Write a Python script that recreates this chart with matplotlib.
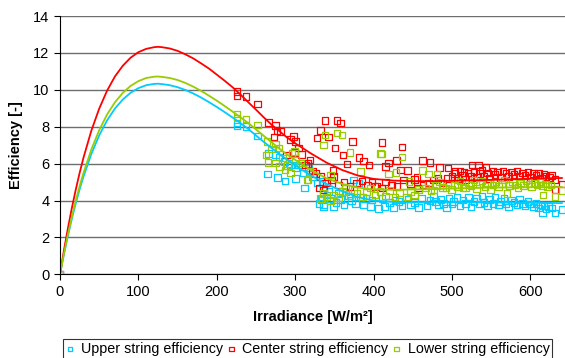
import matplotlib
matplotlib.use("Agg")
import matplotlib.pyplot as plt

plt.rcParams['font.family'] = ['Liberation Sans', 'DejaVu Sans']

# scatter data (irradiance W/m2, efficiency)
upper_x = [0, 225.5, 225.5, 237.5, 252, 266, 274.5, 279, 264.6, 277.4, 287, 300, 294, 300, 304,
           312, 317, 334, 336, 374, 381, 286, 292, 310, 322, 328,
           330, 336, 349, 362, 377, 387, 396, 340.5, 355, 368, 383, 398, 336, 333, 345, 352, 358,
           372, 390, 406, 414, 425, 436, 447, 457, 410.6, 427, 444, 461, 420, 432, 452, 343, 365,
           468, 472, 476, 479, 483, 486, 489, 493, 496, 500, 502, 506, 510, 514, 517, 521, 524,
           528, 531, 535, 538, 541, 545, 548, 552, 555, 559, 562, 566, 569, 572, 576, 579, 583,
           586, 590, 593, 597, 600, 604, 607, 610, 613, 617, 620, 623, 627, 615, 631, 640]
upper_y = [0, 8.19, 8.05, 8.0, 7.5, 6.56, 6.47, 6.35, 5.44, 5.26, 5.06, 5.2, 5.93, 5.8, 5.93,
           4.67, 5.75, 5.02, 4.67, 5.12, 4.94, 6.1, 6.0, 5.5, 5.3, 4.95,
           3.85, 3.76, 3.67, 3.76, 3.85, 3.76, 3.67, 4.3, 4.39, 4.25, 4.18, 4.03, 3.67, 4.05, 4.1,
           3.9, 4.05, 4.0, 4.1, 3.58, 3.67, 3.62, 3.7, 3.76, 3.62, 4.12, 4.03, 4.07, 4.12, 3.9,
           3.95, 3.9, 4.5, 4.45,
           3.7, 4.0, 4.21, 3.94, 3.75, 4.05, 3.85, 3.6, 4.1, 3.8, 3.94, 4.15, 3.7, 4.03, 3.85, 4.2,
           3.65, 3.95, 4.1, 3.8, 4.25, 3.9, 3.7, 4.05, 3.85, 4.15, 3.75, 3.95, 4.1, 3.8, 3.65, 4.0,
           3.9, 3.75, 4.05, 3.85, 3.7, 3.95, 3.8, 3.65, 3.85, 3.6, 3.75, 3.7, 3.55, 3.68, 3.6,
           3.34, 3.32, 3.5]

center_x = [0, 225.5, 225.5, 237.5, 252, 266, 274.5, 276.6, 281, 273, 298, 300, 304, 294, 289,
            299, 313, 319, 332, 330, 336, 338, 353, 358, 332, 342.5, 328, 373, 410.6, 436, 351,
            361, 381, 387, 394, 415, 419, 429, 434, 443, 462, 472, 484, 495, 504, 515, 455, 348,
            349, 366, 402, 410.6, 423, 457, 470, 404, 308, 316, 322, 326,
            340, 346, 355, 362, 370, 378, 385, 392, 398, 415, 430, 438, 447, 452, 463, 476, 482,
            488, 494,
            500, 503, 507, 510, 513, 517, 520, 524, 525.6, 528, 531, 534, 535, 538, 541, 543, 545,
            548, 552, 555, 558, 562, 565, 569, 572, 576, 579, 583, 586, 590, 593, 597, 600, 604,
            607, 610, 614, 617, 620, 624, 627, 631, 640, 631]
center_y = [0, 9.91, 9.67, 9.64, 9.24, 8.23, 8.06, 7.79, 7.74, 7.43, 7.47, 7.2, 6.84, 7.32, 6.47,
            6.6, 5.93, 6.2, 5.3, 4.67, 4.57, 8.33, 8.33, 8.19, 7.79, 7.43, 7.38, 7.2, 7.14, 6.89,
            6.84, 6.47, 6.33, 6.15, 5.93, 5.84, 6.02, 6.17, 5.66, 5.62, 6.17, 6.06, 5.8, 5.75, 5.57,
            5.51, 5.26, 5.62, 5.3, 5.98, 4.75, 4.67, 4.85, 4.67, 4.94, 4.79, 6.5, 6.0, 5.6, 5.45,
            4.95, 5.1, 4.85, 5.0, 4.75, 4.95, 5.05, 4.8, 5.0, 5.0, 4.75, 5.1, 4.9, 5.15, 4.85, 5.1,
            5.2, 4.95, 5.2,
            5.3, 5.45, 5.2, 5.6, 5.35, 5.15, 5.5, 5.3, 5.93, 5.55, 5.25, 5.93, 5.45, 5.65, 5.3, 5.8,
            5.5, 5.2, 5.6, 5.4, 5.55, 5.25, 5.6, 5.45, 5.3, 5.55, 5.4, 5.6, 5.3, 5.5, 5.35, 5.55,
            5.25, 5.45, 5.35, 5.5, 5.2, 5.4, 5.3, 5.25, 5.35, 4.61, 4.9, 5.15]

lower_x = [0, 225.5, 225.5, 237.5, 252, 264, 274.5, 279, 262.6, 265, 274.5, 279.6, 287, 294, 296,
           300, 316, 334, 338, 353, 359.6, 336, 370, 408.5, 299, 315, 345, 383, 319, 307, 410,
           436, 419, 428.5, 462, 470, 481, 445, 270, 284, 290,
           332, 336, 349, 364, 379, 396, 402, 340, 345, 355, 360, 370, 375, 386, 391, 408, 415,
           427, 442, 452, 420, 433, 447, 457,
           466, 470, 473, 477, 480, 484, 488, 492, 495, 499, 503, 507, 510, 514, 517, 521, 524,
           528, 531, 535, 538, 542, 545, 549, 552, 556, 559, 563, 566, 570, 573, 577, 580, 584,
           587, 591, 594, 598, 601, 605, 608, 612, 615, 619, 622, 626, 616, 631, 640]
lower_y = [0, 8.7, 8.46, 8.41, 8.1, 7.2, 7.07, 6.84, 6.47, 6.06, 6.02, 5.84, 5.66, 5.48, 6.56,
           6.2, 5.15, 4.12, 7.56, 7.65, 7.56, 7.02, 6.6, 6.56, 6.65, 5.12, 5.39, 5.57, 5.57, 6.02,
           6.53, 6.35, 5.44, 5.51, 5.62, 5.44, 5.44, 5.02, 6.8, 6.3, 5.9,
           4.12, 4.39, 4.3, 4.67, 4.39, 4.67, 4.3, 4.2, 4.0, 4.15, 4.5, 4.25, 4.55, 4.2, 4.45, 4.5,
           4.25, 4.18, 4.18, 4.3, 4.55, 4.4, 4.5, 4.6,
           4.67, 4.9, 4.55, 4.58, 4.8, 5.0, 4.7, 4.67, 4.95, 4.6, 4.85, 4.75, 5.05, 4.7, 4.67, 4.95,
           4.8, 5.1, 4.65, 4.9, 5.05, 4.75, 4.95, 4.6, 4.85, 5.0, 4.75, 4.9, 5.1, 4.39, 4.8, 5.0,
           4.85, 4.7, 4.95, 4.8, 5.05, 4.9, 4.75, 4.95, 4.85, 5.0, 4.8, 4.9, 4.75, 4.85, 4.3, 4.21,
           4.54]

# trend curves
curve_x = [0, 5, 10, 15, 20, 25, 30, 40, 50, 60, 70, 80, 90, 100, 110, 120, 125, 130, 140, 150,
           160, 170, 180, 190, 200, 210, 220, 230, 240, 250, 260, 270, 280, 290, 300, 320, 340,
           360, 380, 400, 425, 450, 475, 500, 550, 600, 640]
upper_curve = [0, 1.08, 2.07, 2.99, 3.83, 4.60, 5.30, 6.52, 7.53, 8.34, 8.98, 9.47, 9.84, 10.09,
               10.25, 10.32, 10.33, 10.31, 10.25, 10.14, 9.99, 9.80, 9.58, 9.33, 9.07, 8.79, 8.50,
               8.20, 7.88, 7.52, 7.17, 6.84, 6.50, 6.20, 5.90, 5.35, 4.90, 4.50, 4.18, 4.00, 3.92,
               3.90, 3.90, 3.90, 3.90, 3.88, 3.86]
center_curve = [0, 1.29, 2.47, 3.57, 4.57, 5.49, 6.33, 7.79, 8.98, 9.95, 10.72, 11.30, 11.74,
                12.04, 12.22, 12.31, 12.33, 12.31, 12.24, 12.11, 11.92, 11.70, 11.43, 11.15,
                10.82, 10.49, 10.14, 9.75, 9.33, 8.92, 8.50, 8.10, 7.75, 7.40, 7.10, 6.55, 6.05,
                5.65, 5.35, 5.17, 5.08, 5.05, 5.05, 5.07, 5.12, 5.18, 5.22]
lower_curve = [0, 1.12, 2.15, 3.10, 3.98, 4.78, 5.50, 6.77, 7.81, 8.66, 9.32, 9.83, 10.21, 10.47,
               10.64, 10.71, 10.72, 10.70, 10.64, 10.53, 10.37, 10.17, 9.94, 9.68, 9.41, 9.12,
               8.82, 8.51, 8.20, 7.85, 7.50, 7.15, 6.80, 6.48, 6.20, 5.65, 5.20, 4.90, 4.70,
               4.60, 4.58, 4.60, 4.62, 4.65, 4.70, 4.72, 4.73]

blue = '#00ccff'
red = '#ff0000'
green = '#99cc00'

fig = plt.figure(figsize=(5.65, 3.58), dpi=100)
ax = fig.add_axes([60 / 565, 1 - 274.3 / 358, 1 - 60 / 565, (274.3 - 16) / 358])

mk = dict(marker='s', s=22, facecolors='none', linewidths=0.9)
ax.scatter(upper_x, upper_y, edgecolors=blue, label='Upper string efficiency', **mk)
ax.scatter(center_x, center_y, edgecolors=red, label='Center string efficiency', **mk)
ax.scatter(lower_x, lower_y, edgecolors=green, label='Lower string efficiency', **mk)

ax.plot(curve_x, upper_curve, color=blue, lw=1.3)
ax.plot(curve_x, center_curve, color=red, lw=1.3)
ax.plot(curve_x, lower_curve, color=green, lw=1.3)

ax.set_xlim(0, 644)
ax.set_ylim(0, 14)
ax.set_xticks([0, 100, 200, 300, 400, 500, 600])
ax.set_yticks(range(0, 15, 2))
ax.yaxis.grid(True, color='#6e6e6e', lw=1.0)
ax.set_axisbelow(True)
for s in ['top', 'right']:
    ax.spines[s].set_visible(False)
ax.tick_params(direction='out', length=4, labelsize=10.5, colors='black')

ax.set_xlabel('Irradiance [W/m²]', fontsize=10.5, fontweight='bold', labelpad=8)
ax.set_ylabel('Efficiency [-]', fontsize=10.5, fontweight='bold', labelpad=7)

leg = fig.legend(loc='upper left', bbox_to_anchor=(63 / 565, 1 - 339 / 358), ncol=3,
                 fontsize=10.3, frameon=True, fancybox=False, edgecolor='black',
                 handlelength=0.6, handletextpad=0.45, columnspacing=0.3,
                 borderpad=0.2, borderaxespad=0, markerscale=0.7)
leg.get_frame().set_linewidth(0.8)

fig.savefig('out.png', dpi=100)
plt.close(fig)
